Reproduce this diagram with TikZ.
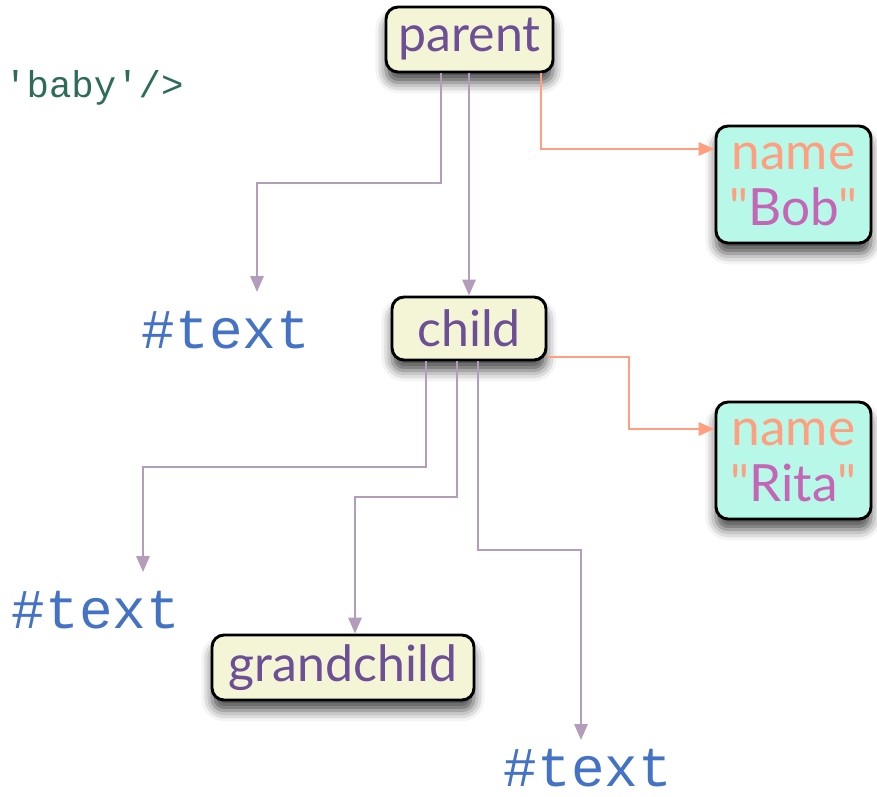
\documentclass[tikz,border=0pt]{standalone}
\usepackage{fontspec}
\setmainfont{Lato}[Ligatures=TeXOff]
\setmonofont{Liberation Mono}
\usetikzlibrary{arrows.meta,shadows.blur}
\definecolor{cream}{HTML}{F4F4D6}
\definecolor{mint}{HTML}{B8F8E8}
\definecolor{elemtxt}{HTML}{6C4F95}
\definecolor{conn}{HTML}{B39DBB}
\definecolor{attr}{HTML}{FF9F80}
\definecolor{valtxt}{HTML}{C465B5}
\definecolor{txtblue}{HTML}{4472C4}
\definecolor{codegreen}{HTML}{2F6B5B}
\newcommand{\qq}{\textcolor{attr}{"}}
\tikzset{
  box/.style={draw=black, line width=2.2pt, rounded corners=9pt, inner sep=0pt,
    blur shadow={shadow xshift=0pt, shadow yshift=-8pt, shadow blur radius=8pt, shadow opacity=70}},
  elem/.style={box, fill=cream, text=elemtxt, font=\fontsize{37.5}{42}\selectfont},
  attrbox/.style={box, fill=mint, align=center, font=\fontsize{38.5}{42}\selectfont},
  textnode/.style={text=txtblue, font=\ttfamily\fontsize{42}{46}\selectfont, inner sep=0pt},
  pline/.style={draw=conn, line width=1.6pt, -{Triangle[length=12pt,width=10pt]}},
  oline/.style={draw=attr, line width=1.6pt, -{Triangle[length=12pt,width=10pt]}},
}
\begin{document}
\begin{tikzpicture}[x=0.75pt,y=-0.75pt]
\useasboundingbox (0,0) rectangle (877,796);
% nodes
\node[elem, minimum width=167*0.75pt, minimum height=65*0.75pt] (parent) at (469.5,39.5) {parent};
\node[attrbox, minimum width=155*0.75pt, minimum height=117*0.75pt] (bob) at (793.5,184.5)
  {\textcolor{attr}{name}\\\qq\textcolor{valtxt}{Bob}\qq};
\node[elem, minimum width=154*0.75pt, minimum height=63*0.75pt] (child) at (469,328.5) {child};
\node[attrbox, minimum width=155*0.75pt, minimum height=117*0.75pt] (rita) at (793.5,460.5)
  {\textcolor{attr}{name}\\\qq\textcolor{valtxt}{Rita}\qq};
\node[elem, minimum width=262*0.75pt, minimum height=65*0.75pt] (grand) at (343,667.5) {grandchild};
\node[textnode] (t1) at (226,330) {\#text};
\node[textnode] (t2) at (96,610) {\#text};
\node[textnode] (t3) at (588,768) {\#text};
\node[text=codegreen, font=\ttfamily\fontsize{28}{32}\selectfont, anchor=west, inner sep=0pt] (baby) at (4,88) {'baby'/>};
% free ends
\coordinate (e1) at (257,292);
\coordinate (e2) at (143,572);
\coordinate (e3) at (581,740);
% connectors
\draw[pline] (parent.south -| 441,0) |- (257,183) -- (e1);
\draw[pline] (parent.south -| 469,0) -- (child.north -| 469,0);
\draw[oline] (parent.south -| 541,0) |- (bob.west |- 0,149);
\draw[pline] (child.south -| 426,0) |- (143,467) -- (e2);
\draw[pline] (child.south -| 457,0) |- (355,497) -- (grand.north -| 355,0);
\draw[pline] (child.south -| 478,0) |- (581,550) -- (e3);
\draw[oline] (child.east |- 0,357) -| (629,429) -- (rita.west |- 0,429);
\end{tikzpicture}
\end{document}
